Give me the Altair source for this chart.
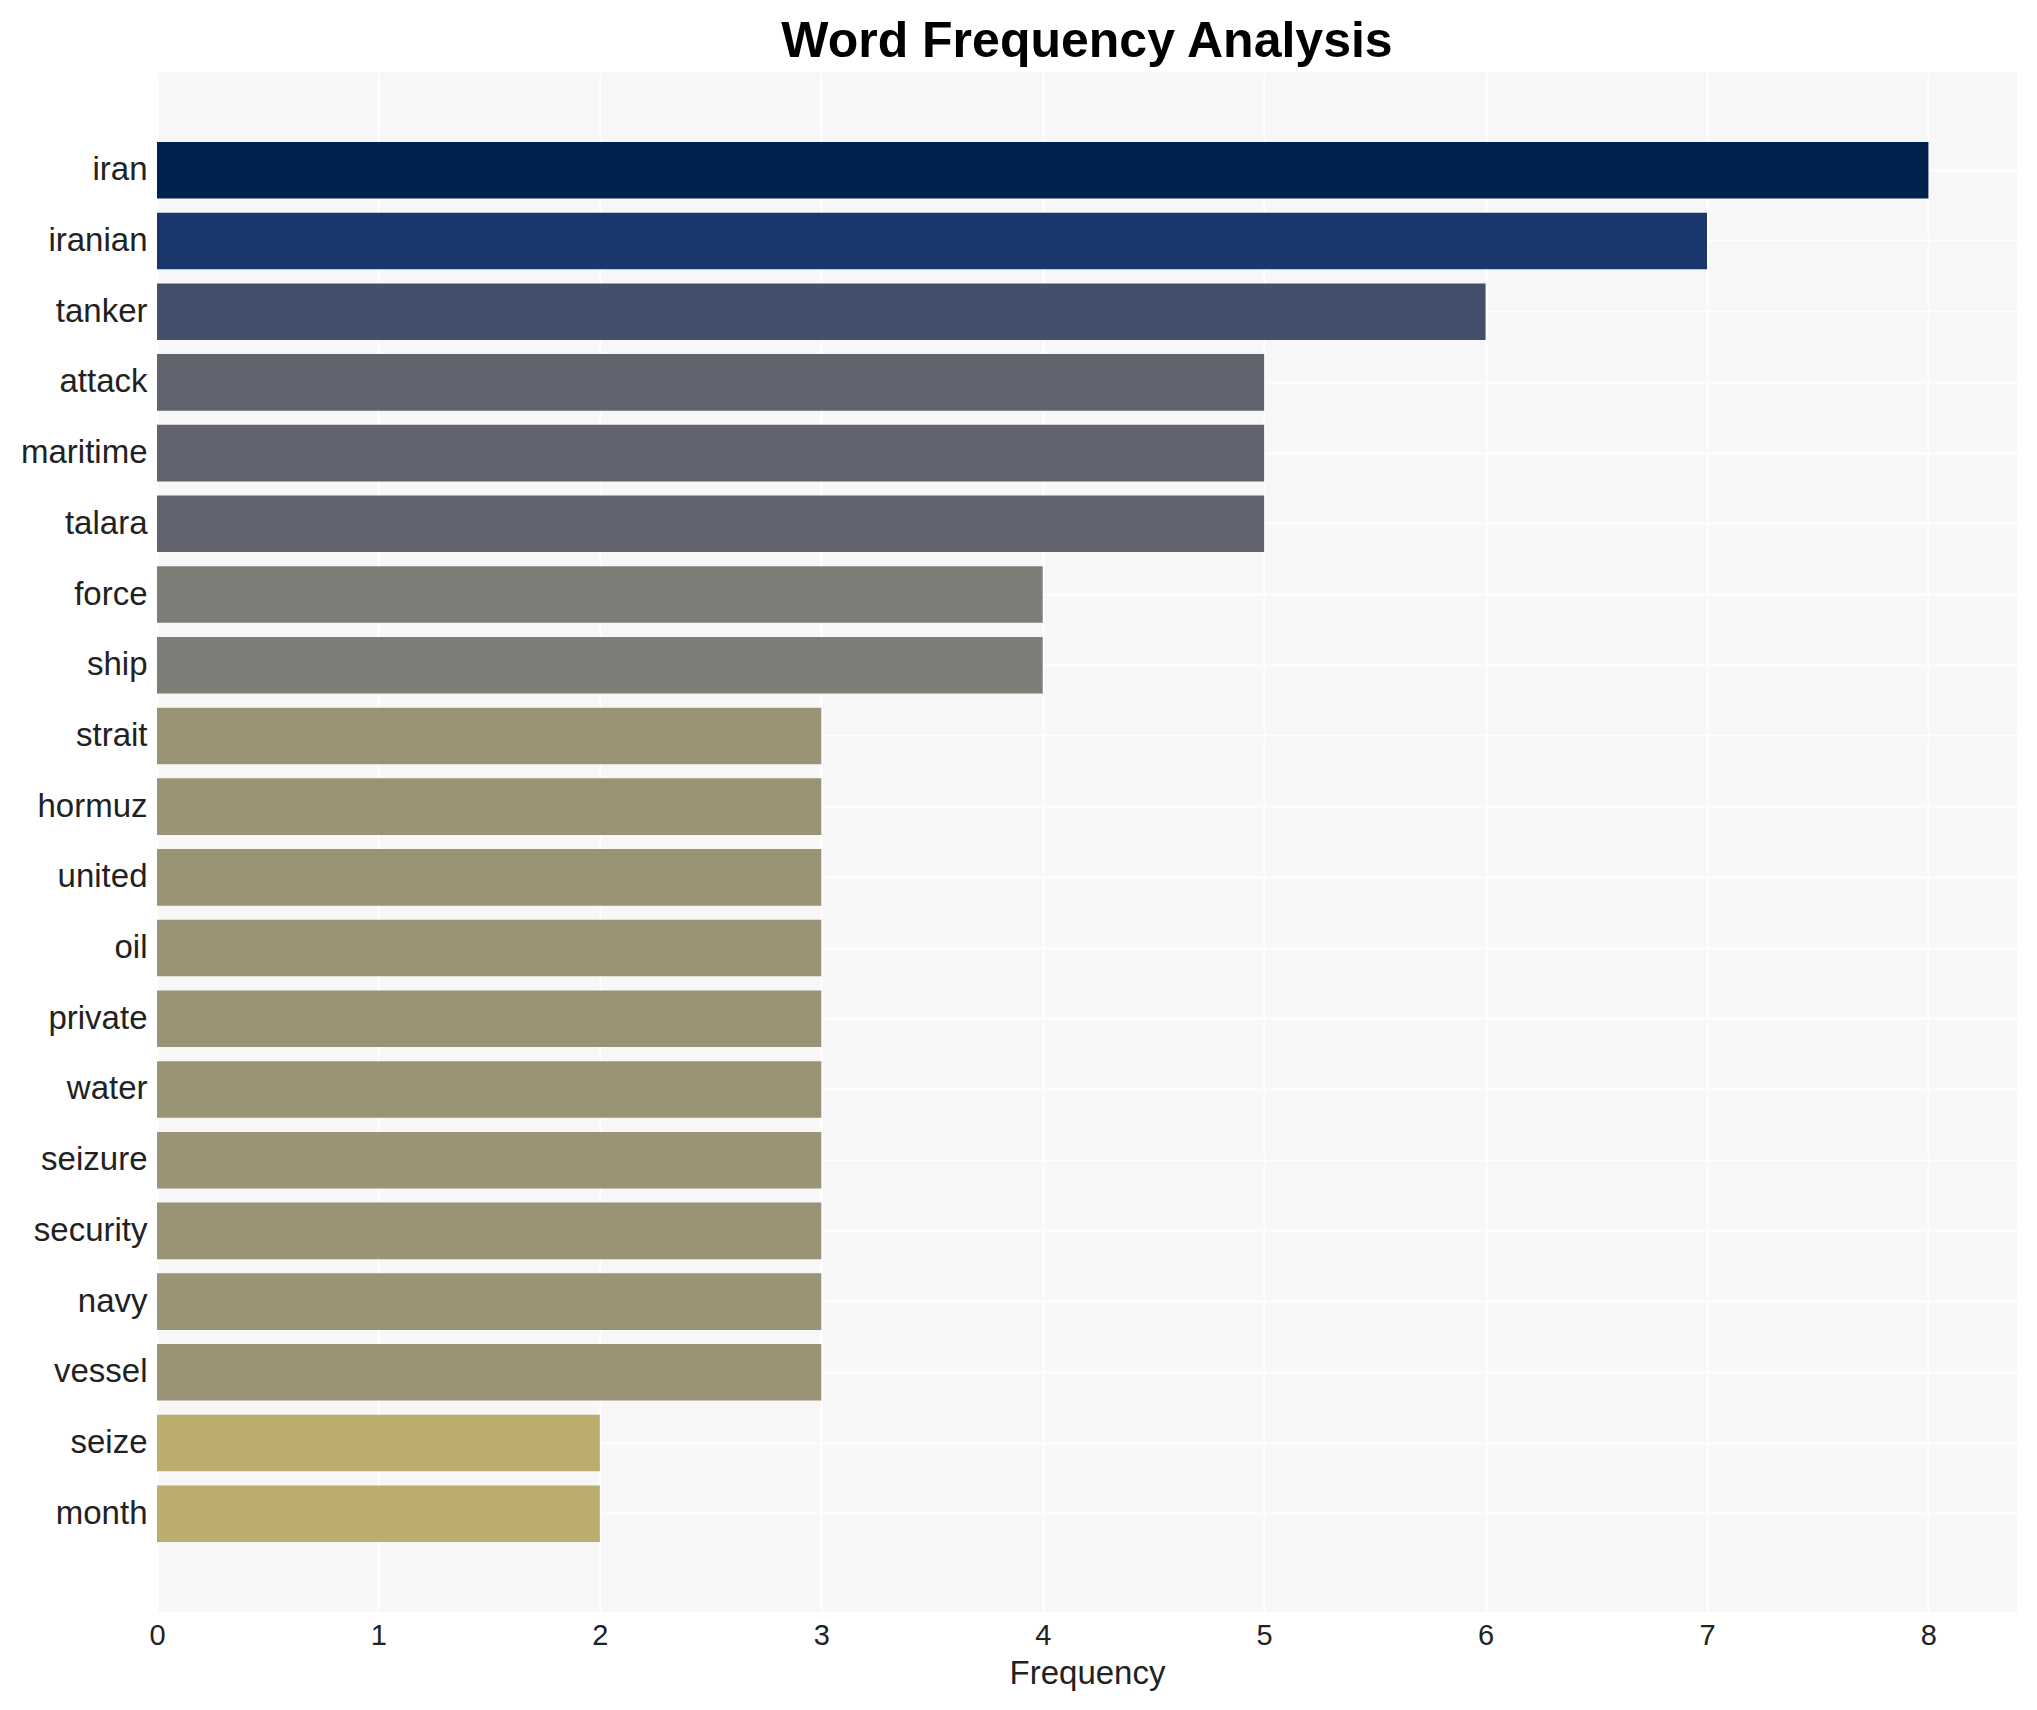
import altair as alt
import pandas as pd

words = ["iran", "iranian", "tanker", "attack", "maritime", "talara", "force", "ship",
         "strait", "hormuz", "united", "oil", "private", "water", "seizure", "security",
         "navy", "vessel", "seize", "month"]
freqs = [8, 7, 6, 5, 5, 5, 4, 4, 3, 3, 3, 3, 3, 3, 3, 3, 3, 3, 2, 2]

color_levels = [8, 7, 6, 5, 4, 3, 2]
color_hex = ["#00224e", "#1a376d", "#434f6d", "#61646f", "#7f7d78", "#9a9375", "#bbad6e"]

x_ticks = [0, 1, 2, 3, 4, 5, 6, 7, 8]

df = pd.DataFrame({"word": words, "freq": freqs})

FONT = "Liberation Sans"

chart = alt.Chart(df).mark_bar().encode(
    y=alt.Y("word:N", sort=words,
            scale=alt.Scale(paddingInner=0.2, paddingOuter=0.99),
            axis=alt.Axis(title=None, ticks=False, domain=False, labelPadding=10,
                          labelFontSize=33, labelColor="#222222", labelFont=FONT,
                          grid=True, gridColor="#ffffff", gridWidth=2, bandPosition=0.5)),
    x=alt.X("freq:Q",
            scale=alt.Scale(domain=[0, 8.4], nice=False, zero=True),
            axis=alt.Axis(title="Frequency", values=x_ticks, format="d", ticks=False, domain=False,
                          labelFlush=False, labelPadding=9, labelFontSize=29,
                          labelColor="#222222", labelFont=FONT,
                          titleFontSize=33, titleFont=FONT, titleFontWeight="normal",
                          titleColor="#222222", titlePadding=7,
                          grid=True, gridColor="#ffffff", gridWidth=2)),
    color=alt.Color("freq:O", scale=alt.Scale(domain=color_levels, range=color_hex), legend=None),
).properties(
    width=1860,
    height=1540,
    background="#ffffff",
    title=alt.TitleParams("Word Frequency Analysis", font=FONT, fontSize=50, fontWeight="bold",
                          color="#000000", anchor="middle", offset=5),
    autosize=alt.AutoSizeParams(type="none"),
    padding={"left": 149, "top": 64, "right": 10, "bottom": 80},
).configure_view(
    fill="#f7f7f7", strokeWidth=0
)

chart.save("out.html", embed_options={"renderer": "svg", "actions": False})
